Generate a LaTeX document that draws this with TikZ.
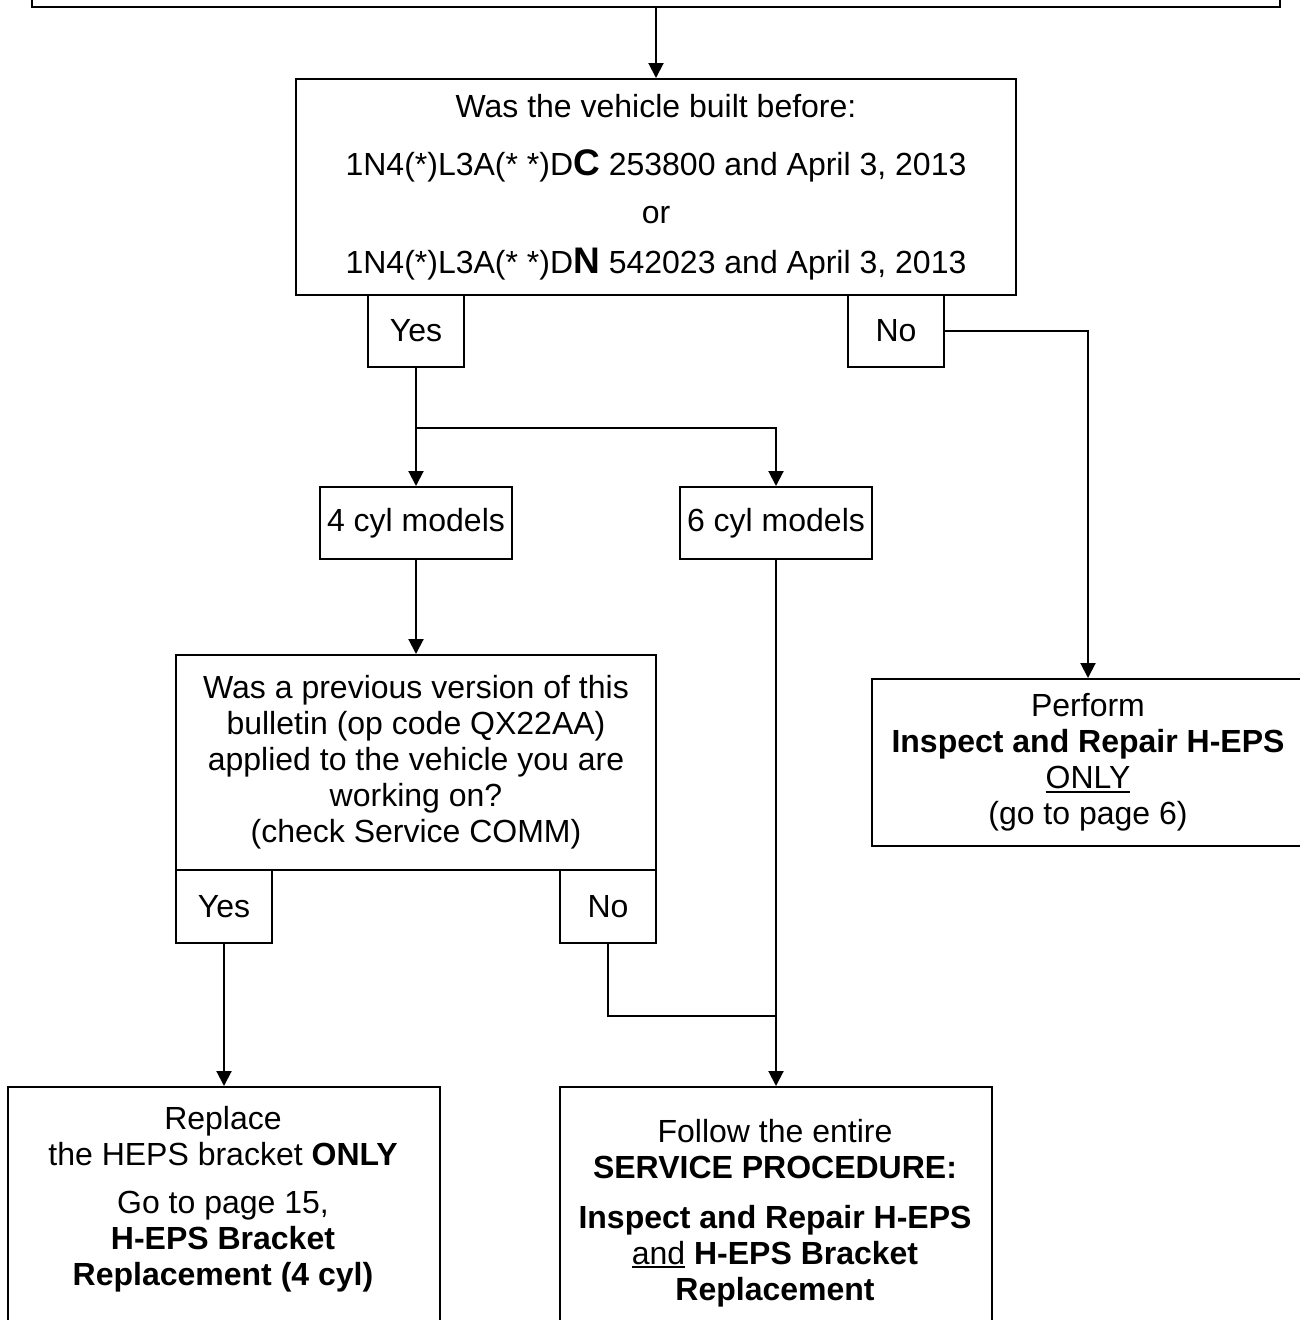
\documentclass[tikz,border=0pt]{standalone}
\usepackage{fontspec}
\setmainfont{Liberation Sans}
\usetikzlibrary{arrows.meta}
\newcommand\myul[1]{{\setbox0\hbox{#1}\rlap{\rule[-4pt]{\wd0}{2pt}}\box0}}
\newcommand\bigC[1]{{\fontsize{37}{37}\selectfont\bfseries #1}}
\begin{document}
\begin{tikzpicture}[x=1pt,y=-1pt,
  txt/.style={font=\fontsize{32}{36}\selectfont, align=center, inner sep=0pt},
  box/.style={draw, line width=2pt, anchor=north west, inner sep=0pt,
    font=\fontsize{32}{36}\selectfont, align=center},
  arr/.style={line width=2pt, -{Triangle[length=15pt,width=15pt]}},
  ln/.style={line width=2pt}]
\useasboundingbox (0,0) rectangle (1300,1320);

% boxes
\node[box, minimum width=1248pt, minimum height=46pt] (top) at (31,-40) {};
\node[box, minimum width=720pt, minimum height=216pt] (main) at (295,78)
  {Was the vehicle built before:\\[22pt]
   1N4(*)L3A(* *)D\bigC{C} 253800 and April 3, 2013\\[12pt]
   or\\[14pt]
   1N4(*)L3A(* *)D\bigC{N} 542023 and April 3, 2013};
\node[box, minimum width=96pt, minimum height=72pt] (yes) at (367,294) {Yes};
\node[box, minimum width=96pt, minimum height=72pt] (no) at (847,294) {No};
\node[box, minimum width=192pt, minimum height=72pt] (c4) at (319,486) {4 cyl models};
\node[box, minimum width=192pt, minimum height=72pt] (c6) at (679,486) {6 cyl models};
\node[box, minimum width=480pt, minimum height=215pt] (q) at (175,654)
  {Was a previous version of this\\
   bulletin (op code QX22AA)\\
   applied to the vehicle you are\\
   working on?\\
   (check Service COMM)};
\node[box, minimum width=96pt, minimum height=73pt] (yes2) at (175,869) {Yes};
\node[box, minimum width=96pt, minimum height=73pt] (no2) at (559,869) {No};
\node[box, minimum width=432pt, minimum height=167pt] (perf) at (871,678)
  {Perform\\
   \textbf{Inspect and Repair H-EPS}\\
   \myul{ONLY}\\
   (go to page 6)};
\node[box, minimum width=432pt, minimum height=260pt] (rep) at (7,1086) {};
\node[box, minimum width=432pt, minimum height=260pt] (fol) at (559,1086) {};

% texts of the cut-off boxes
\node[txt, anchor=north] (repT) at (223,1106)
  {Replace\\
   the HEPS bracket \textbf{ONLY}\\[12pt]
   Go to page 15,\\
   \textbf{H-EPS Bracket}\\
   \textbf{Replacement (4 cyl)}};
\node[txt, anchor=north] (folT) at (775,1119)
  {Follow the entire\\
   \textbf{SERVICE PROCEDURE:}\\[14pt]
   \textbf{Inspect and Repair H-EPS}\\
   \myul{and} \textbf{H-EPS Bracket}\\
   \textbf{Replacement}};

% connectors
\path (yes.south) ++(0,60) coordinate (j);
\path (c6.south) ++(0,456) coordinate (m);
\draw[arr] (top.south) -- (main.north);
\draw[ln] (yes.south) -- (j);
\draw[arr] (j) -- (c4.north);
\draw[arr] (j) -| (c6.north);
\draw[arr] (no.east) -| (perf.north);
\draw[arr] (c4.south) -- (c4.south |- q.north);
\draw[arr] (yes2.south) -- (yes2.south |- rep.north);
\draw[arr] (c6.south) -- (c6.south |- fol.north);
\draw[ln] (no2.south) |- (m);
\end{tikzpicture}
\end{document}
